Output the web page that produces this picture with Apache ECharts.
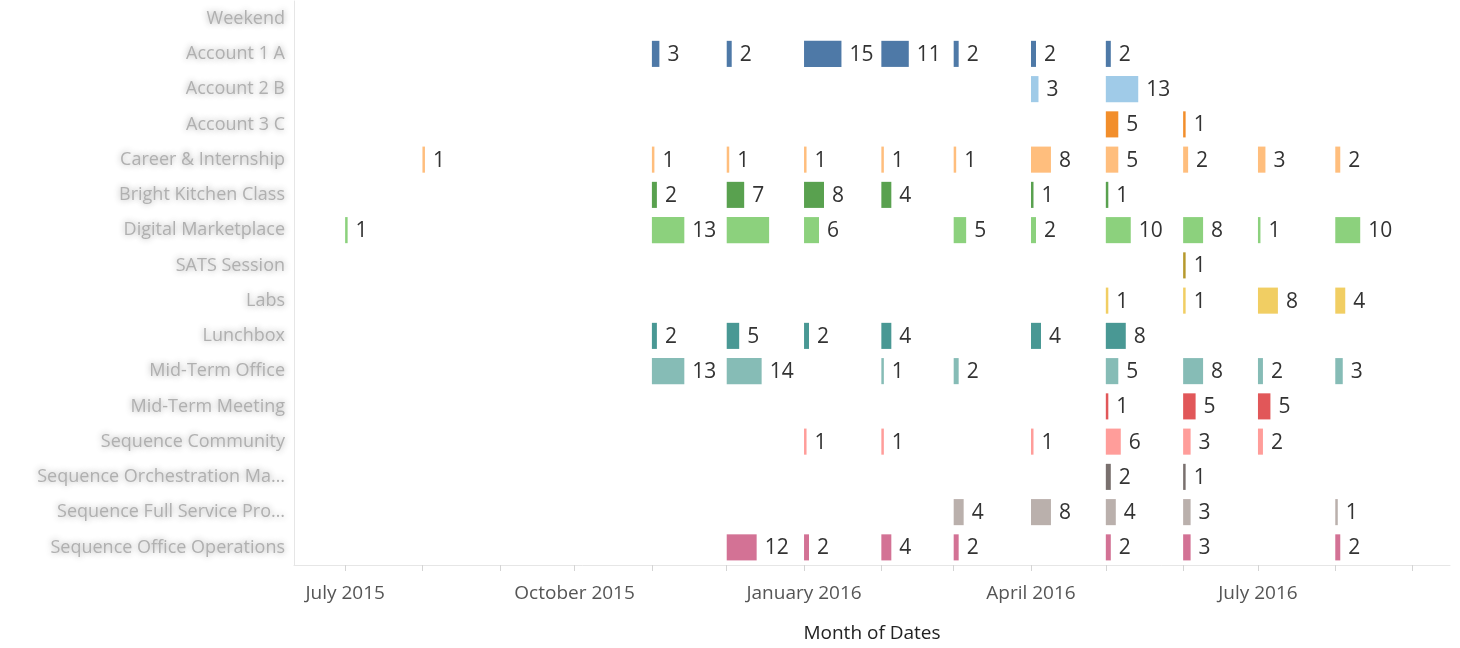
<!DOCTYPE html>
<html>
<head>
<meta charset="utf-8">
<script src="https://cdn.jsdelivr.net/npm/echarts@6/dist/echarts.min.js"></script>
<style>
  html, body { margin: 0; padding: 0; background: #fff; }
  #main { width: 1460px; height: 648px; }
</style>
</head>
<body>
<div id="main"></div>
<script>
// row names (blurred in the original, so these are stand-ins)
var categories = [
    'Weekend',
    'Account 1 A',
    'Account 2 B',
    'Account 3 C',
    'Career & Internship',
    'Bright Kitchen Class',
    'Digital Marketplace',
    'SATS Session',
    'Labs',
    'Lunchbox',
    'Mid-Term Office',
    'Mid-Term Meeting',
    'Sequence Community',
    'Sequence Orchestration Ma\u2026',
    'Sequence Full Service Pro\u2026',
    'Sequence Office Operations'
];

// month columns of the matrix below
var months = ['2015-07', '2015-08', '2015-09', '2015-10', '2015-11', '2015-12',
              '2016-01', '2016-02', '2016-03', '2016-04', '2016-05', '2016-06',
              '2016-07', '2016-08'];

// counts per row, one column per month (null = no bar)
var counts = [
    [null, null, null, null, null, null, null, null, null, null, null, null, null, null],
    [null, null, null, null, 3, 2, 15, 11, 2, 2, 2, null, null, null],
    [null, null, null, null, null, null, null, null, null, 3, 13, null, null, null],
    [null, null, null, null, null, null, null, null, null, null, 5, 1, null, null],
    [null, 1, null, null, 1, 1, 1, 1, 1, 8, 5, 2, 3, 2],
    [null, null, null, null, 2, 7, 8, 4, null, 1, 1, null, null, null],
    [1, null, null, null, 13, 17, 6, null, 5, 2, 10, 8, 1, 10],
    [null, null, null, null, null, null, null, null, null, null, null, 1, null, null],
    [null, null, null, null, null, null, null, null, null, null, 1, 1, 8, 4],
    [null, null, null, null, 2, 5, 2, 4, null, 4, 8, null, null, null],
    [null, null, null, null, 13, 14, null, 1, 2, null, 5, 8, 2, 3],
    [null, null, null, null, null, null, null, null, null, null, 1, 5, 5, null],
    [null, null, null, null, null, null, 1, 1, null, 1, 6, 3, 2, null],
    [null, null, null, null, null, null, null, null, null, null, 2, 1, null, null],
    [null, null, null, null, null, null, null, null, 4, 8, 4, 3, null, 1],
    [null, null, null, null, null, 12, 2, 4, 2, null, 2, 3, null, 2]
];

var colors = ['#4e79a7', '#4e79a7', '#a0cbe8', '#f28e2b', '#ffbe7d', '#59a14f', '#8cd17d', '#b6992d',
              '#f1ce63', '#499894', '#86bcb6', '#e15759', '#ff9d9a', '#79706e', '#bab0ac', '#d37295'];

var monthNames = ['January', 'February', 'March', 'April', 'May', 'June', 'July',
                  'August', 'September', 'October', 'November', 'December'];

var DAY = 24 * 3600 * 1000;
var FONT = '"Open Sans", "DejaVu Sans", sans-serif';

function toTime(m) {
    var p = m.split('-');
    return new Date(+p[0], +p[1] - 1, 1).getTime();
}

var monthTicks = [];
for (var k = 0; k < 15; k++) monthTicks.push(new Date(2015, 6 + k, 1).getTime());
var quarterTicks = monthTicks.filter(function (t) { return new Date(t).getMonth() % 3 === 0; });

var data = [];
counts.forEach(function (row, r) {
    row.forEach(function (v, c) {
        if (v == null) return;
        // next bar start in the same row, used to drop labels that would collide
        var next = -1;
        for (var j = c + 1; j < row.length; j++) {
            if (row[j] != null) { next = toTime(months[j]); break; }
        }
        data.push([toTime(months[c]), r, v, next]);
    });
});

var chart = echarts.init(document.getElementById('main'));

var option = {
    animation: false,
    grid: { left: 294, right: 10, top: 1, bottom: 83, outerBoundsMode: 'none' },
    xAxis: {
        type: 'value',
        scale: true,
        min: new Date(2015, 5, 10, 12).getTime(),
        max: new Date(2016, 8, 16).getTime(),
        name: 'Month of Dates',
        nameLocation: 'middle',
        nameGap: 59,
        nameTextStyle: { fontSize: 19, color: '#222', fontFamily: FONT, fontWeight: 500 },
        axisLine: { show: true, lineStyle: { color: '#e6e6e6' } },
        axisTick: { show: true, customValues: monthTicks, length: 6, lineStyle: { color: '#d4d4d4' } },
        axisLabel: {
            customValues: quarterTicks,
            margin: 19,
            fontSize: 19,
            color: '#555',
            fontFamily: FONT,
            formatter: function (val) {
                var d = new Date(val);
                return monthNames[d.getMonth()] + ' ' + d.getFullYear();
            }
        },
        splitLine: { show: false }
    },
    yAxis: {
        type: 'category',
        inverse: true,
        data: categories,
        axisLine: { show: true, lineStyle: { color: '#e6e6e6' } },
        axisTick: { show: false },
        axisLabel: {
            margin: 9,
            fontSize: 18,
            color: '#b0b0b0',
            fontFamily: FONT,
            textShadowColor: 'rgba(150,150,150,0.9)',
            textShadowBlur: 6
        },
        splitLine: { show: false }
    },
    series: [{
        type: 'custom',
        data: data,
        encode: { x: 0, y: 1 },
        renderItem: function (params, api) {
            var start = api.value(0);
            var row = api.value(1);
            var n = api.value(2);
            var next = api.value(3);
            var p0 = api.coord([start, row]);
            var p1 = api.coord([start + n * DAY, row]);
            var h = api.size([0, 1])[1] * 0.74;
            var label = String(n);
            var tw = label.length * 12.5;
            var hide = false;
            if (next > 0) {
                var nx = api.coord([next, row])[0];
                if (p1[0] + 8 + tw > nx - 4) hide = true;
            }
            return {
                type: 'group',
                children: [{
                    type: 'rect',
                    shape: { x: p0[0], y: p0[1] - h / 2, width: Math.max(p1[0] - p0[0], 2.5), height: h },
                    style: { fill: colors[row] }
                }, {
                    type: 'text',
                    ignore: hide,
                    style: {
                        text: label,
                        x: p1[0] + 8,
                        y: p0[1] + 1,
                        verticalAlign: 'middle',
                        fill: '#333',
                        font: '21px ' + FONT
                    }
                }]
            };
        }
    }]
};

chart.setOption(option);
</script>
</body>
</html>
